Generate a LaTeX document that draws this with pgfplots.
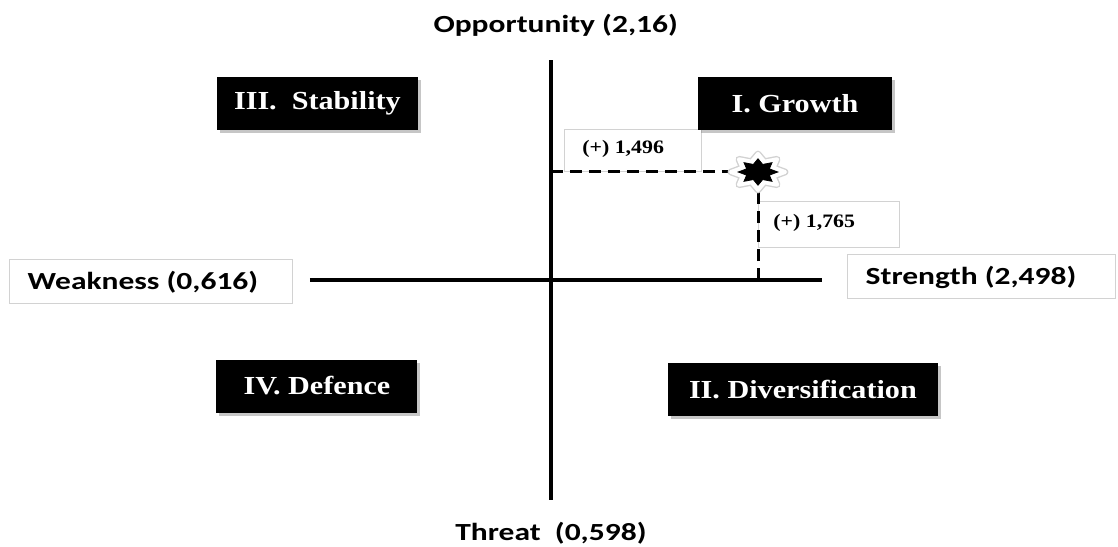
\documentclass[border=0pt]{standalone}
\usepackage{pgfplots}
\pgfplotsset{compat=1.18}
\usepackage{fontspec}
\setmainfont{Liberation Serif}
\usetikzlibrary{shadows}
\newfontfamily\calb[FakeStretch=1.28]{Carlito}
\newfontfamily\tmsb[FakeStretch=1.16]{Liberation Serif}
\newfontfamily\tmss[FakeStretch=1.15]{Liberation Serif}
\pgfdeclareplotmark{star8}{%
  \pgfpathmoveto{\pgfpoint{0pt}{\pgfplotmarksize}}%
  \pgfpathlineto{\pgfpoint{-0.3559*\pgfplotmarksize}{0.5728*\pgfplotmarksize}}%
  \pgfpathlineto{\pgfpoint{-1.0607*\pgfplotmarksize}{0.7071*\pgfplotmarksize}}%
  \pgfpathlineto{\pgfpoint{-0.8592*\pgfplotmarksize}{0.2373*\pgfplotmarksize}}%
  \pgfpathlineto{\pgfpoint{-1.5*\pgfplotmarksize}{0pt}}%
  \pgfpathlineto{\pgfpoint{-0.8592*\pgfplotmarksize}{-0.2373*\pgfplotmarksize}}%
  \pgfpathlineto{\pgfpoint{-1.0607*\pgfplotmarksize}{-0.7071*\pgfplotmarksize}}%
  \pgfpathlineto{\pgfpoint{-0.3559*\pgfplotmarksize}{-0.5728*\pgfplotmarksize}}%
  \pgfpathlineto{\pgfpoint{0pt}{-\pgfplotmarksize}}%
  \pgfpathlineto{\pgfpoint{0.3559*\pgfplotmarksize}{-0.5728*\pgfplotmarksize}}%
  \pgfpathlineto{\pgfpoint{1.0607*\pgfplotmarksize}{-0.7071*\pgfplotmarksize}}%
  \pgfpathlineto{\pgfpoint{0.8592*\pgfplotmarksize}{-0.2373*\pgfplotmarksize}}%
  \pgfpathlineto{\pgfpoint{1.5*\pgfplotmarksize}{0pt}}%
  \pgfpathlineto{\pgfpoint{0.8592*\pgfplotmarksize}{0.2373*\pgfplotmarksize}}%
  \pgfpathlineto{\pgfpoint{1.0607*\pgfplotmarksize}{0.7071*\pgfplotmarksize}}%
  \pgfpathlineto{\pgfpoint{0.3559*\pgfplotmarksize}{0.5728*\pgfplotmarksize}}%
  \pgfpathclose
  \pgfusepathqfillstroke
}
\tikzset{
  quad/.style={fill=black, text=white, inner sep=0pt, minimum height=26.5pt,
    drop shadow={shadow xshift=1.5pt, shadow yshift=-1.5pt, opacity=0.45}},
  lbox/.style={draw=gray!35, line width=0.5pt, fill=white, inner sep=0pt},
}
\begin{document}
\begin{tikzpicture}
\begin{axis}[width=559pt, height=273pt, scale only axis, hide axis, clip=false,
  xmin=-4.697, xmax=4.834, ymin=-3.684, ymax=3.878]
\path (rel axis cs:0,0) rectangle (rel axis cs:1,1);
% label boxes
\node[lbox, minimum width=68.5pt, minimum height=21pt] at (axis cs:0.703,1.787) {};
\node[lbox, minimum width=70.5pt, minimum height=23pt] at (axis cs:2.366,0.762) {};
\node[lbox, minimum width=141.5pt, minimum height=22pt] at (axis cs:-3.406,-0.014) {};
\node[lbox, minimum width=134pt, minimum height=22pt] at (axis cs:3.674,0.055) {};
% axes
\addplot[black, line width=1.8pt] coordinates {(0,3.047) (0,-3.047)};
\addplot[black, line width=1.8pt] coordinates {(-2.055,0) (2.310,0)};
% dashed guides
\addplot[black, line width=1.5pt, dash pattern=on 6pt off 3.5pt] coordinates {(0,1.496) (1.765,1.496)};
\addplot[black, line width=1.5pt, dash pattern=on 6pt off 3.5pt] coordinates {(1.765,0) (1.765,1.496)};
% point
\addplot[only marks, mark=star8, mark size=9pt, mark options={fill=white, draw=gray!35, line width=3.4pt, line join=round}] coordinates {(1.765,1.496)};
\addplot[only marks, mark=star8, mark size=9pt, mark options={fill=white, draw=white, line width=2pt, line join=round}] coordinates {(1.765,1.496)};
\addplot[only marks, mark=star8, mark size=6.6pt, mark options={fill=black, draw=black, line width=0.4pt}] coordinates {(1.765,1.496)};
% value labels
\node[anchor=west, inner sep=0pt] at (axis cs:0.264,1.814) {\tmss\bfseries\fontsize{9.5}{11}\selectfont (+) 1,496};
\node[anchor=west, inner sep=0pt] at (axis cs:1.893,0.796) {\tmss\bfseries\fontsize{9.5}{11}\selectfont (+) 1,765};
% axis end labels
\node[inner sep=0pt] at (axis cs:-3.478,-0.03) {\calb\bfseries\fontsize{12.3}{14}\selectfont Weakness (0,616)};
\node[inner sep=0pt] at (axis cs:3.581,0.03) {\calb\bfseries\fontsize{12.3}{14}\selectfont Strength (2,498)};
\node[anchor=base, inner sep=0pt] at (axis cs:0.04,3.421) {\calb\bfseries\fontsize{12.3}{14}\selectfont Opportunity (2,16)};
\node[anchor=base, inner sep=0pt] at (axis cs:0,-3.601) {\calb\bfseries\fontsize{12.3}{14}\selectfont Threat\ \ (0,598)};
% quadrant boxes
\node[quad, minimum width=100.5pt] at (axis cs:-1.991,2.445) {\tmsb\bfseries\fontsize{13}{15}\selectfont III.\ \ Stability};
\node[quad, minimum width=97pt] at (axis cs:2.080,2.445) {\tmsb\bfseries\fontsize{13}{15}\selectfont I. Growth};
\node[quad, minimum width=100.5pt] at (axis cs:-1.995,-1.468) {\tmsb\bfseries\fontsize{13}{15}\selectfont IV. Defence};
\node[quad, minimum width=135pt] at (axis cs:2.148,-1.510) {\tmsb\bfseries\fontsize{13}{15}\selectfont II. Diversification};
\end{axis}
\end{tikzpicture}
\end{document}
